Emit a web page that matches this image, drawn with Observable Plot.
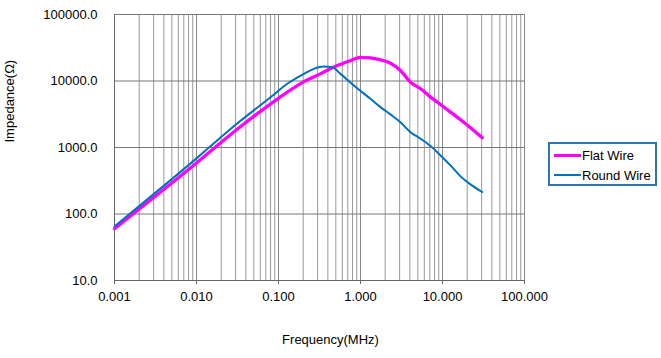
<!DOCTYPE html>
<html>
<head>
<meta charset="utf-8">
<script src="https://cdn.jsdelivr.net/npm/d3@7"></script>
<script src="https://cdn.jsdelivr.net/npm/@observablehq/plot@0.6"></script>
<style>
  body { margin: 0; background: #fff; font-family: "Liberation Sans", Arial, sans-serif; }
  #wrap { position: relative; width: 661px; height: 358px; }
  #legend { position: absolute; left: 548px; top: 142px; width: 105px; height: 40px;
    border: 2px solid #2e75b6; background: #fff; font-size: 13px; color: #000; }
  .item { position: absolute; left: 4px; height: 16px; display: flex; align-items: center; }
  .sw { width: 27px; margin-right: 1px; }
</style>
</head>
<body>
<div id="wrap"></div>
<script>
// ---- data ----
const flatFreq = [0.001, 0.01, 0.03, 0.1, 0.2, 0.324, 0.52, 0.76, 1.0, 1.32, 1.75, 2.32, 3.07, 4.07, 5.4, 7.15, 9.46, 12.5, 16.6, 21.9, 30.5];
const flatZ    = [60, 583, 1800, 5500, 9600, 12800, 17100, 20300, 22700, 22300, 20800, 18500, 14400, 9600, 7640, 5720, 4440, 3400, 2610, 1980, 1400];
const roundFreq = [0.001, 0.01, 0.03, 0.08, 0.128, 0.204, 0.269, 0.357, 0.452, 0.57, 0.83, 1.32, 1.75, 2.32, 3.07, 4.07, 5.4, 7.15, 9.46, 12.5, 16.6, 21.9, 30.5];
const roundZ    = [65, 686, 2200, 5700, 9080, 12800, 15200, 16500, 16100, 12800, 8550, 5400, 4050, 3150, 2400, 1700, 1355, 1050, 760, 538, 368, 279, 214];
const seriesNames = ["Flat Wire", "Round Wire"];
const seriesColors = ["#ff00ff", "#0070c0"];
const xTicks = [0.001, 0.01, 0.1, 1, 10, 100];
const yTicks = [10, 100, 1000, 10000, 100000];
const xMinor = xTicks.slice(0, -1).flatMap(d => d3.range(2, 10).map(k => +(d * k).toPrecision(3)));

const flat = flatFreq.map((f, i) => ({f, z: flatZ[i], s: seriesNames[0]}));
const round = roundFreq.map((f, i) => ({f, z: roundZ[i], s: seriesNames[1]}));

const chart = Plot.plot({
  width: 661,
  height: 358,
  marginLeft: 114,
  marginRight: 137,
  marginTop: 14,
  marginBottom: 78,
  style: {fontFamily: "Liberation Sans, Arial, sans-serif", fontSize: "13px", color: "#000", background: "#fff"},
  x: {type: "log", domain: [0.001, 100]},
  y: {type: "log", domain: [10, 100000]},
  marks: [
    Plot.ruleX(xMinor, {stroke: "#999", strokeWidth: 1}),
    Plot.ruleX(xTicks, {stroke: "#888", strokeWidth: 1}),
    Plot.ruleY(yTicks, {stroke: "#777", strokeWidth: 1}),
    Plot.ruleY([10], {stroke: "#666", strokeWidth: 1}),
    Plot.ruleX([0.001], {stroke: "#666", strokeWidth: 1}),
    Plot.axisX({ticks: xTicks, tickFormat: d3.format(".3f"), tickSize: 4, tickPadding: 7, label: null, stroke: "#666"}),
    Plot.axisY({ticks: yTicks, tickFormat: d3.format(".1f"), tickSize: 0, tickPadding: 17, label: null}),
    Plot.line(flat, {x: "f", y: "z", stroke: seriesColors[0], strokeWidth: 3.3, curve: "monotone-x"}),
    Plot.line(round, {x: "f", y: "z", stroke: seriesColors[1], strokeWidth: 2, curve: "monotone-x"}),
    Plot.text(["Frequency(MHz)"], {frameAnchor: "bottom", dy: 59, dx: 11, lineAnchor: "middle", fontSize: 13}),
    Plot.text(["Impedance(Ω)"], {frameAnchor: "left", dx: -105, dy: -5, rotate: -90, lineAnchor: "middle", fontSize: 13})
  ]
});
const wrap = document.getElementById("wrap");
wrap.appendChild(chart);

const legend = document.createElement("div");
legend.id = "legend";
seriesNames.forEach((name, i) => {
  const it = document.createElement("div");
  it.className = "item";
  it.style.top = (i === 0 ? 3 : 23) + "px";
  const sw = document.createElement("div");
  sw.className = "sw";
  sw.style.borderTop = (i === 0 ? 3 : 2) + "px solid " + seriesColors[i];
  const tx = document.createElement("span");
  tx.textContent = name;
  it.appendChild(sw); it.appendChild(tx);
  legend.appendChild(it);
});
wrap.appendChild(legend);
</script>
</body>
</html>
